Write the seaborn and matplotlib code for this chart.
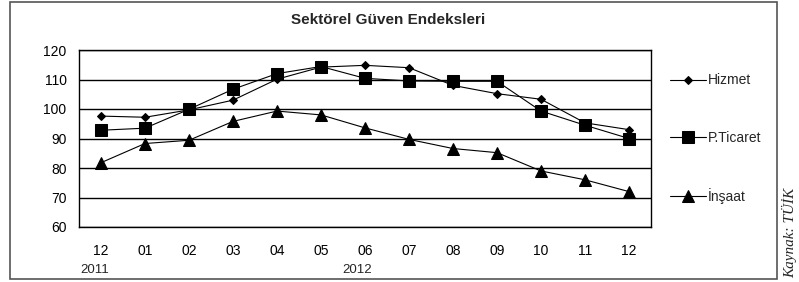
import pandas as pd
import matplotlib
matplotlib.use("Agg")
import matplotlib.pyplot as plt
from matplotlib.patches import Rectangle
import seaborn as sns

# ─── DATA ────────────────────────────────────────────────────────────────────
months = ["12", "01", "02", "03", "04", "05", "06", "07", "08", "09", "10", "11", "12"]
hizmet = [97.6, 97.2, 99.7, 103.0, 110.1, 114.2, 114.8, 114.0, 108.0, 105.2, 103.3, 95.3, 93.0]
ticaret = [92.8, 93.5, 99.9, 106.7, 112.0, 114.4, 110.4, 109.5, 109.4, 109.4, 99.3, 94.5, 90.0]
insaat = [81.8, 88.3, 89.4, 95.8, 99.3, 98.0, 93.6, 89.7, 86.6, 85.2, 79.0, 76.0, 72.0]
series_names = ["Hizmet", "P.Ticaret", "İnşaat"]
years = ["2011", "2012"]

df = pd.DataFrame({"x": range(len(months)), "Hizmet": hizmet,
                   "P.Ticaret": ticaret, "İnşaat": insaat})
long = df.melt(id_vars="x", var_name="seri", value_name="deger")

# ─── STYLE ───────────────────────────────────────────────────────────────────
sns.set_style("white")
plt.rcParams["font.family"] = ["Liberation Sans", "DejaVu Sans"]

W, H = 799, 282
fig = plt.figure(figsize=(W / 100, H / 100), dpi=100)
ax = fig.add_axes([79 / W, 1 - 227 / H, (651 - 79) / W, (227 - 50) / H])

markers = {"Hizmet": "D", "P.Ticaret": "s", "İnşaat": "^"}
msizes = {"Hizmet": 4.5, "P.Ticaret": 8.5, "İnşaat": 8.5}
for name in ["İnşaat", "Hizmet", "P.Ticaret"]:
    sub = long[long["seri"] == name]
    sns.lineplot(data=sub, x="x", y="deger", ax=ax, color="black",
                 linewidth=0.8, marker=markers[name], markersize=msizes[name],
                 markeredgecolor="black", markerfacecolor="black", label=name,
                 zorder=3)

ax.set_xlim(-0.5, len(months) - 0.5)
ax.set_ylim(60, 120)
ax.set_yticks(range(60, 121, 10))
ax.set_xticks(range(len(months)))
ax.set_xticklabels(months)
ax.set_xlabel("")
ax.set_ylabel("")
ax.tick_params(axis="both", length=0, labelsize=10, colors="black")
ax.tick_params(axis="y", pad=9)
ax.tick_params(axis="x", pad=12)
ax.yaxis.grid(True, color="black", linewidth=1.0)
ax.set_axisbelow(True)
for sp in ax.spines.values():
    sp.set_visible(True)
    sp.set_color("black")
    sp.set_linewidth(1.0)

# legend on the right
handles, labels = ax.get_legend_handles_labels()
order = [labels.index(n) for n in series_names]
ax.legend([handles[i] for i in order], [labels[i] for i in order],
          loc="center left", bbox_to_anchor=(663 / W, 1 - 138.5 / H),
          bbox_transform=fig.transFigure, frameon=False, fontsize=10,
          handlelength=2.6, handletextpad=0.15, labelspacing=3.1, borderpad=0)

# title and year labels
fig.text(388 / W, 1 - 20 / H, "Sektörel Güven Endeksleri", ha="center",
         va="center", fontsize=11, fontweight="bold")
fig.text(80 / W, 1 - 270 / H, years[0], ha="left", va="center", fontsize=9.5)
fig.text(357 / W, 1 - 270 / H, years[1], ha="center", va="center", fontsize=9.5)

# outer frame
fig.patches.append(Rectangle((10 / W, 3 / H), (777 - 10) / W, (280 - 3) / H,
                             transform=fig.transFigure, fill=False,
                             edgecolor="#555555", linewidth=1.2))

# source note along the right edge
fig.text(797 / W, 4 / H, "Kaynak: TÜİK", rotation=90, ha="right", va="bottom",
         fontsize=11, style="italic", family=["Liberation Serif", "DejaVu Serif"])

fig.savefig("out.png", dpi=100)
